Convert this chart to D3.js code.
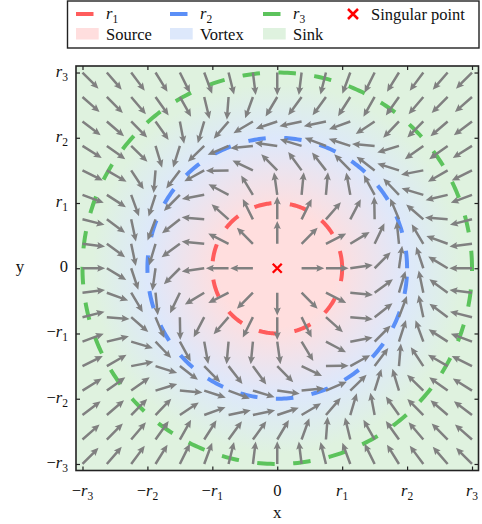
<!DOCTYPE html>
<html>
<head>
<meta charset="utf-8">
<script src="https://cdn.jsdelivr.net/npm/d3@7"></script>
<style>
body { margin: 0; background: #fff; }
text { font-family: "Liberation Serif", "DejaVu Serif", serif; fill: #111; }
</style>
</head>
<body>
<svg id="chart" width="482" height="524"></svg>
<script>
// zone radii r1, r2, r3
const radii = [1, 2, 3];
const radiusSubs = ["1", "2", "3"];
const lineColors = ["#ff5c5c", "#5b8ff7", "#5cc35c"];
const zoneNames = ["Source", "Vortex", "Sink"];
const zoneColors = ["#ffdede", "#dde8fb", "#dff2df"];

// ticks
const tickValues = [-3, -2, -1, 0, 1, 2, 3];
const tickSigns = ["\u2212", "\u2212", "\u2212", "", "", "", ""];
const tickSubs = ["3", "2", "1", null, "1", "2", "3"];

// quiver grid
const gridValues = [-3, -2.625, -2.25, -1.875, -1.5, -1.125, -0.75, -0.375, 0,
  0.375, 0.75, 1.125, 1.5, 1.875, 2.25, 2.625, 3];
const arrowLength = 0.35;
const domain = [-3.1, 3.1];

const svg = d3.select("#chart");
const margin = { top: 66, right: 3.5, bottom: 53.5, left: 76 };
const W = 482, H = 524;

const x = d3.scaleLinear().domain(domain).range([margin.left, W - margin.right]);
const y = d3.scaleLinear().domain(domain).range([H - margin.bottom, margin.top]);

const defs = svg.append("defs");
defs.append("clipPath").attr("id", "plotClip")
  .append("rect")
  .attr("x", x(domain[0])).attr("y", y(domain[1]))
  .attr("width", x(domain[1]) - x(domain[0]))
  .attr("height", y(domain[0]) - y(domain[1]));

// background: source -> vortex -> sink
const rMax = 4.5;
const grad = defs.append("radialGradient").attr("id", "zones")
  .attr("gradientUnits", "userSpaceOnUse")
  .attr("cx", x(0)).attr("cy", y(0))
  .attr("r", x(rMax) - x(0));
const stops = [[0, zoneColors[0]], [radii[0] * 0.9, zoneColors[0]], [radii[1], zoneColors[1]], [radii[2] * 0.95, zoneColors[2]], [rMax, zoneColors[2]]];
stops.forEach(([r, c]) => grad.append("stop").attr("offset", r / rMax).attr("stop-color", c));

const plot = svg.append("g").attr("clip-path", "url(#plotClip)");
plot.append("rect")
  .attr("x", x(domain[0])).attr("y", y(domain[1]))
  .attr("width", x(domain[1]) - x(domain[0]))
  .attr("height", y(domain[0]) - y(domain[1]))
  .attr("fill", "url(#zones)");

// dashed circles, drawn counter-clockwise from angle 0
const angles = d3.range(0, 361).map(d => d * Math.PI / 180);
const circleLine = d3.line().x(d => x(d[0])).y(d => y(d[1]));
radii.forEach((r, i) => {
  plot.append("path")
    .attr("d", circleLine(angles.map(t => [r * Math.cos(t), r * Math.sin(t)])))
    .attr("fill", "none")
    .attr("stroke", lineColors[i])
    .attr("stroke-width", 4)
    .attr("stroke-dasharray", "17.5,18.5");
});

// blended field: source inside r1, vortex at r2, sink outside r3
function field(px, py) {
  const r = Math.hypot(px, py);
  const [a, b, c] = radii;
  const clamp = v => Math.max(0, Math.min(1, v));
  const wSrc = clamp((b - r) / (b - a));
  const wVort = r < b ? clamp((r - a) / (b - a)) : clamp((c - r) / (c - b));
  const wSink = clamp((r - b) / (c - b));
  const ex = px / r, ey = py / r;
  const vx = (wSrc - wSink) * ex - wVort * ey;
  const vy = (wSrc - wSink) * ey + wVort * ex;
  const n = Math.hypot(vx, vy);
  return [vx / n, vy / n];
}

const points = [];
gridValues.forEach(gx => gridValues.forEach(gy => {
  if (gx === 0 && gy === 0) return;
  const [ux, uy] = field(gx, gy);
  points.push({ gx, gy, ux, uy });
}));

const L = x(arrowLength) - x(0);
const shaft = 1.25, headW = 3.6, headL = 8, headAx = 7;
const arrowPath = `M0,${-shaft}L${L - headAx},${-shaft}L${L - headL},${-headW}L${L},0L${L - headL},${headW}L${L - headAx},${shaft}L0,${shaft}Z`;

plot.append("g").selectAll("path")
  .data(points)
  .join("path")
  .attr("d", arrowPath)
  .attr("fill", "#808080")
  .attr("transform", d => {
    const x0 = x(d.gx), y0 = y(d.gy);
    const x1 = x(d.gx + d.ux), y1 = y(d.gy + d.uy);
    const ang = Math.atan2(y1 - y0, x1 - x0) * 180 / Math.PI;
    return `translate(${x0},${y0}) rotate(${ang})`;
  });

// singular point
const cross = 4.5;
plot.append("path")
  .attr("d", `M${x(0) - cross},${y(0) - cross}L${x(0) + cross},${y(0) + cross}M${x(0) - cross},${y(0) + cross}L${x(0) + cross},${y(0) - cross}`)
  .attr("stroke", "#ff0000").attr("stroke-width", 2.3).attr("fill", "none");

// axes: ticks inward on all four sides
function tickLabel(sel, i) {
  sel.text(null);
  if (tickSubs[i] === null) { sel.append("tspan").text("0"); return; }
  sel.append("tspan").text(tickSigns[i]);
  sel.append("tspan").attr("font-style", "italic").text("r");
  sel.append("tspan").attr("font-size", "11.5px").attr("dy", 4).text(tickSubs[i]);
}

const fmt = () => "";
const axB = svg.append("g").attr("transform", `translate(0,${y(domain[0])})`)
  .call(d3.axisBottom(x).tickValues(tickValues).tickSize(-4).tickFormat(fmt));
const axT = svg.append("g").attr("transform", `translate(0,${y(domain[1])})`)
  .call(d3.axisTop(x).tickValues(tickValues).tickSize(-4).tickFormat(fmt));
const axL = svg.append("g").attr("transform", `translate(${x(domain[0])},0)`)
  .call(d3.axisLeft(y).tickValues(tickValues).tickSize(-4).tickFormat(fmt));
const axR = svg.append("g").attr("transform", `translate(${x(domain[1])},0)`)
  .call(d3.axisRight(y).tickValues(tickValues).tickSize(-4).tickFormat(fmt));
[axB, axT, axL, axR].forEach(a => {
  a.select(".domain").remove();
  a.selectAll(".tick line").attr("stroke", "#222").attr("stroke-width", 1.2);
});

svg.append("rect")
  .attr("x", x(domain[0])).attr("y", y(domain[1]))
  .attr("width", x(domain[1]) - x(domain[0]))
  .attr("height", y(domain[0]) - y(domain[1]))
  .attr("fill", "none").attr("stroke", "#222").attr("stroke-width", 1.6);

// tick labels
svg.append("g").selectAll("text")
  .data(tickValues)
  .join("text")
  .attr("x", d => x(d))
  .attr("y", y(domain[0]) + 25)
  .attr("text-anchor", "middle")
  .attr("font-size", "16.5px")
  .each(function (d, i) { tickLabel(d3.select(this), i); });

svg.append("g").selectAll("text")
  .data(tickValues)
  .join("text")
  .attr("x", x(domain[0]) - 8)
  .attr("y", d => y(d) + 4)
  .attr("text-anchor", "end")
  .attr("font-size", "16.5px")
  .each(function (d, i) { tickLabel(d3.select(this), i); });

svg.append("text").attr("x", x(0)).attr("y", 518)
  .attr("text-anchor", "middle").attr("font-size", "17px").text("x");
svg.append("text").attr("x", 20).attr("y", y(0) + 4)
  .attr("text-anchor", "middle").attr("font-size", "17px").text("y");

// legend
const legend = svg.append("g");
legend.append("rect")
  .attr("x", 67.5).attr("y", 1).attr("width", 411.5).attr("height", 47)
  .attr("fill", "#fff").attr("stroke", "#222").attr("stroke-width", 1.4);
const colX = [76, 170, 263];
const handleW = 22.7;
radii.forEach((r, i) => {
  legend.append("line")
    .attr("x1", colX[i]).attr("x2", colX[i] + handleW)
    .attr("y1", 14).attr("y2", 14)
    .attr("stroke", lineColors[i]).attr("stroke-width", 4)
    .attr("stroke-dasharray", "17.5,18.5");
  const t = legend.append("text").attr("x", colX[i] + 30).attr("y", 19).attr("font-size", "16.5px");
  t.append("tspan").attr("font-style", "italic").text("r");
  t.append("tspan").attr("font-size", "11.5px").attr("dy", 4).text(radiusSubs[i]);

  legend.append("rect")
    .attr("x", colX[i]).attr("y", 28).attr("width", handleW).attr("height", 11.5)
    .attr("fill", zoneColors[i]);
  legend.append("text").attr("x", colX[i] + 30).attr("y", 39.5)
    .attr("font-size", "16.5px").text(zoneNames[i]);
});
const mx = 353, my = 14;
legend.append("path")
  .attr("d", `M${mx - 5},${my - 5}L${mx + 5},${my + 5}M${mx - 5},${my + 5}L${mx + 5},${my - 5}`)
  .attr("stroke", "#ff0000").attr("stroke-width", 2.5);
legend.append("text").attr("x", 371).attr("y", 19.5)
  .attr("font-size", "16.5px").text("Singular point");
</script>
</body>
</html>
